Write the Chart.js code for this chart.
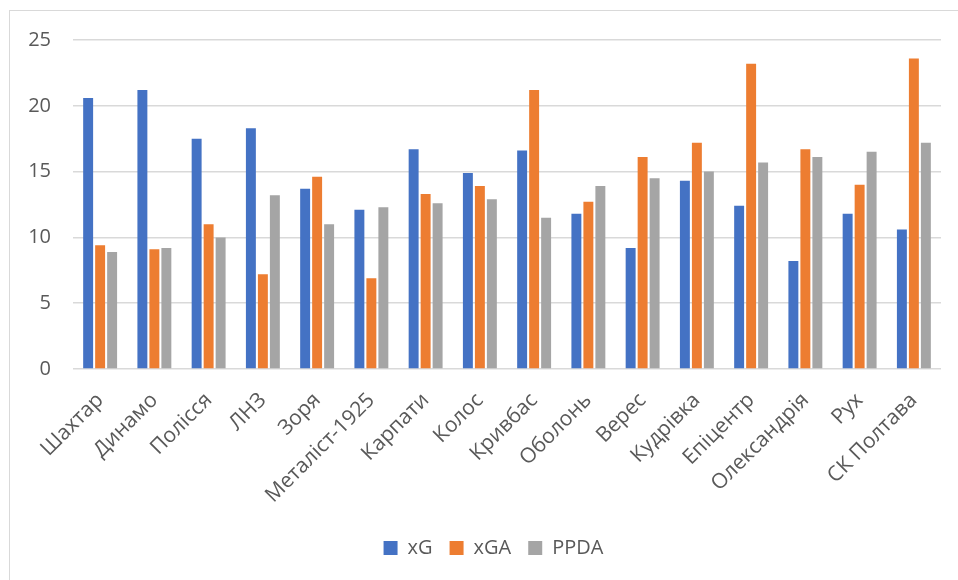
<!DOCTYPE html>
<html>
<head>
<meta charset="utf-8">
<script src="https://cdn.jsdelivr.net/npm/chart.js@4/dist/chart.umd.min.js"></script>
<style>
  html, body { margin: 0; padding: 0; background: #fff; }
  #wrap { position: relative; width: 958px; height: 580px; overflow: hidden; }
  .frame { position: absolute; left: 9px; top: 10px; width: 1000px; height: 600px;
           border-left: 1.5px solid #d9d9d9; border-top: 1.5px solid #d9d9d9; }
  canvas { position: absolute; left: 0; top: 0; }
</style>
</head>
<body>
<div id="wrap">
  <div class="frame"></div>
  <canvas id="myChart" width="958" height="580"></canvas>
</div>
<script>
// клуби
var teams = ["Шахтар", "Динамо", "Полісся", "ЛНЗ", "Зоря", "Металіст-1925", "Карпати", "Колос",
             "Кривбас", "Оболонь", "Верес", "Кудрівка", "Епіцентр", "Олександрія", "Рух", "СК Полтава"];
var xG   = [20.6, 21.2, 17.5, 18.3, 13.7, 12.1, 16.7, 14.9, 16.6, 11.8, 9.2, 14.3, 12.4, 8.2, 11.8, 10.6];
var xGA  = [9.4, 9.1, 11.0, 7.2, 14.6, 6.9, 13.3, 13.9, 21.2, 12.7, 16.1, 17.2, 23.2, 16.7, 14.0, 23.6];
var PPDA = [8.9, 9.2, 10.0, 13.2, 11.0, 12.3, 12.6, 12.9, 11.5, 13.9, 14.5, 15.0, 15.7, 16.1, 16.5, 17.2];
var yTicks = [0, 5, 10, 15, 20, 25];

var txt = '#595959';
var fam = '"Open Sans", sans-serif';

// легенда в оригіналі трохи правіше центру
var legendShift = {
  id: 'legendShift',
  afterLayout: function(chart) {
    chart.legend.left += 23;
    chart.legend.right += 23;
  }
};

var ctx = document.getElementById('myChart');
var myChart = new Chart(ctx, {
  type: 'bar',
  data: {
    labels: teams,
    datasets: [
      { label: 'xG',   data: xG,   backgroundColor: '#4472C4' },
      { label: 'xGA',  data: xGA,  backgroundColor: '#ED7D31' },
      { label: 'PPDA', data: PPDA, backgroundColor: '#A5A5A5' }
    ]
  },
  plugins: [legendShift],
  options: {
    responsive: false,
    animation: false,
    datasets: {
      bar: { categoryPercentage: 0.663, barPercentage: 0.83, borderWidth: 0 }
    },
    layout: { padding: { left: 0, right: 17, top: 40, bottom: 12 } },
    plugins: {
      tooltip: { enabled: false },
      legend: {
        position: 'bottom',
        labels: {
          color: txt,
          font: { family: fam, size: 20 },
          boxWidth: 14,
          boxHeight: 14,
          padding: 17
        }
      }
    },
    scales: {
      x: {
        grid: { display: false },
        border: { display: false },
        ticks: {
          color: txt,
          font: { family: fam, size: 21 },
          maxRotation: 45,
          minRotation: 45,
          autoSkip: false,
          padding: 11
        },
        afterFit: function(s) { s.height = 152; }
      },
      y: {
        min: 0,
        max: 25,
        afterBuildTicks: function(s) { s.ticks = yTicks.map(function(v) { return { value: v }; }); },
        grid: { color: '#d9d9d9', lineWidth: 1.5, drawTicks: false },
        border: { display: false },
        ticks: {
          color: txt,
          font: { family: fam, size: 20 },
          padding: 22
        },
        afterFit: function(s) { s.width = 73; }
      }
    }
  }
});
</script>
</body>
</html>
